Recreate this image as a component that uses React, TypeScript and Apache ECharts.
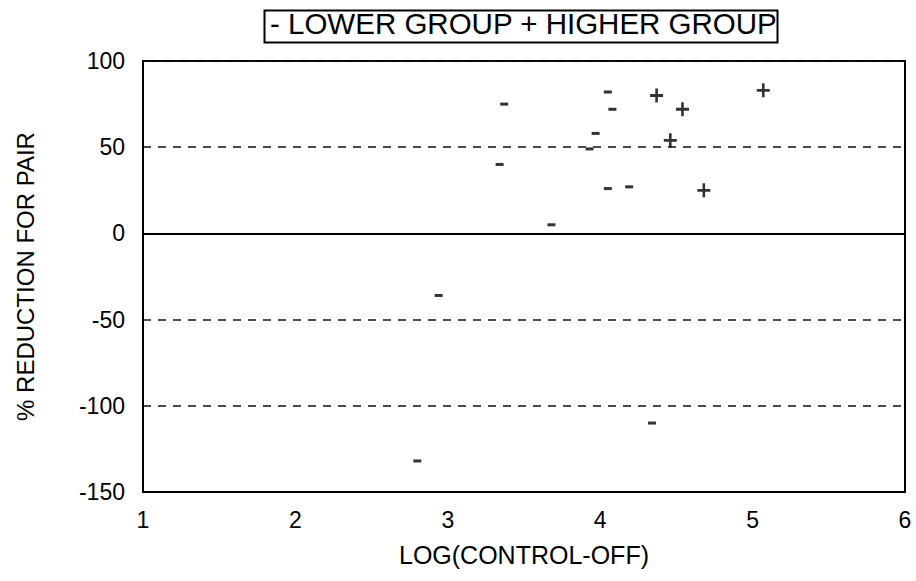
import React, { useEffect, useRef } from "react";
import * as echarts from "echarts";

const lowerX = [3.37, 3.34, 3.68, 4.05, 4.08, 3.97, 3.93, 4.05, 4.19, 2.94, 4.34, 2.8];
const lowerY = [75, 40, 5, 82, 72, 58, 49, 26, 27, -36, -110, -132];
const higherX = [4.37, 4.54, 5.07, 4.46, 4.68];
const higherY = [80, 72, 83, 54, 25];
const legendText = "- LOWER GROUP + HIGHER GROUP";
const xTitle = "LOG(CONTROL-OFF)";
const yTitle = "% REDUCTION FOR PAIR";

const zip = (xs: number[], ys: number[]) => xs.map((x, i) => [x, ys[i]]);

export default function App() {
  const ref = useRef<HTMLDivElement>(null);
  useEffect(() => {
    if (!ref.current) return;
    const chart = echarts.init(ref.current, null, { renderer: "svg" });
    const font = "'Liberation Sans', Arial, sans-serif";
    chart.setOption({
      animation: false,
      backgroundColor: "#fff",
      grid: {
        left: 143,
        right: 11,
        top: 61,
        bottom: 89,
        show: true,
        borderColor: "#000",
        borderWidth: 2,
        containLabel: false,
      },
      xAxis: {
        type: "value",
        min: 1,
        max: 6,
        interval: 1,
        name: xTitle,
        nameLocation: "middle",
        nameGap: 50,
        nameTextStyle: { fontFamily: font, fontSize: 25, color: "#000" },
        axisLine: { show: true, onZero: false, lineStyle: { color: "#000", width: 2 } },
        axisTick: { show: false },
        axisLabel: { fontFamily: font, fontSize: 23, color: "#000", margin: 16 },
        splitLine: { show: false },
      },
      yAxis: {
        type: "value",
        min: -150,
        max: 100,
        interval: 50,
        name: yTitle,
        nameLocation: "middle",
        nameGap: 106,
        nameTextStyle: { fontFamily: font, fontSize: 24, color: "#000" },
        axisLine: { show: true, lineStyle: { color: "#000", width: 2 } },
        axisTick: { show: false },
        axisLabel: { fontFamily: font, fontSize: 23, color: "#000", margin: 18 },
        splitLine: { show: true, lineStyle: { color: "#111", width: 1.6, type: [8, 7] } },
      },
      series: [
        {
          name: "LOWER GROUP",
          type: "scatter",
          data: zip(lowerX, lowerY),
          symbol: "rect",
          symbolSize: [8, 3],
          itemStyle: { color: "#000" },
          markLine: {
            silent: true,
            symbol: "none",
            label: { show: false },
            lineStyle: { color: "#000", width: 2, type: "solid" },
            data: [{ yAxis: 0 }],
          },
        },
        {
          name: "HIGHER GROUP",
          type: "scatter",
          data: zip(higherX, higherY),
          symbol: "path://M0,4.8H12V7.2H0Z M4.8,0H7.2V12H4.8Z",
          symbolSize: [13, 14],
          itemStyle: { color: "#000" },
        },
      ],
      graphic: [
        {
          type: "text",
          left: 270,
          top: 8,
          style: { text: legendText, fontFamily: font, fontSize: 29.5, fill: "#000" },
        },
        {
          type: "rect",
          left: 262,
          top: 8,
          shape: { width: 513, height: 32 },
          style: { fill: "none", stroke: "#000", lineWidth: 2 },
        },
      ],
    });
    return () => chart.dispose();
  }, []);
  return (
    <div
      ref={ref}
      style={{ position: "absolute", left: 0, top: 0, width: 916, height: 581, background: "#fff" }}
    />
  );
}
